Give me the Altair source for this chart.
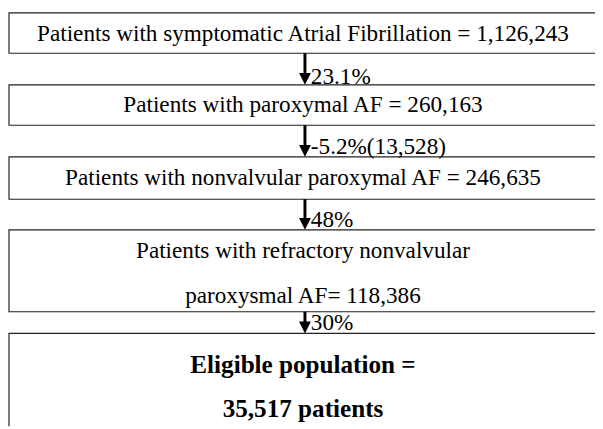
import altair as alt
import pandas as pd

# ---- content ----
box_lines = [
    ["Patients with symptomatic Atrial Fibrillation = 1,126,243"],
    ["Patients with paroxymal AF = 260,163"],
    ["Patients with nonvalvular paroxymal AF = 246,635"],
    ["Patients with refractory nonvalvular", "paroxysmal AF= 118,386"],
    ["Eligible population =", "35,517 patients"],
]
box_bold = [False, False, False, False, True]
step_labels = ["23.1%", "-5.2%(13,528)", "48%", "30%"]

# ---- layout (page pixel positions) ----
box_left = 9
box_right = 640
box_top = [10, 83, 156, 230, 335]
box_bottom = [51, 124, 199, 313, 460]
line_y = [[32], [104], [178], [252, 297], [367, 412]]
text_x = 307
arrow_x = 309
label_x = 315
label_y = [75, 146, 220, 325]
head = 12

FONT = "Liberation Serif"
FS = 23.5
FS_BOLD = 25.5

boxes = pd.DataFrame({"x": [box_left] * 5, "x2": [box_right] * 5,
                      "y": box_top, "y2": box_bottom})
rows = []
for i, lines in enumerate(box_lines):
    for t, yy in zip(lines, line_y[i]):
        rows.append({"text": t, "x": text_x, "y": yy, "bold": box_bold[i]})
texts = pd.DataFrame(rows)
shafts = pd.DataFrame({"x": [arrow_x] * 4, "y": box_bottom[:4],
                       "y2": [t - head + 1 for t in box_top[1:]]})
heads = pd.DataFrame({"x": [arrow_x] * 4, "y": [t - head / 2 for t in box_top[1:]]})
labels = pd.DataFrame({"text": step_labels, "x": [label_x] * 4, "y": label_y})

xs = alt.Scale(domain=[8, 603], nice=False, zero=False)
ys = alt.Scale(domain=[8, 429], nice=False, zero=False, reverse=True)
X = lambda f="x": alt.X(f, type="quantitative", scale=xs, axis=None)
Y = lambda f="y": alt.Y(f, type="quantitative", scale=ys, axis=None)

rect = alt.Chart(boxes).mark_rect(fill="white", stroke="#222", strokeWidth=1.2, clip=True).encode(
    x=X(), x2="x2", y=Y(), y2="y2")
txt_norm = alt.Chart(texts[~texts.bold]).mark_text(font=FONT, fontSize=FS, color="black",
                                                    align="center", baseline="middle").encode(
    x=X(), y=Y(), text="text")
txt_bold = alt.Chart(texts[texts.bold]).mark_text(font=FONT, fontSize=FS_BOLD, fontWeight="bold",
                                                   color="black", align="center", baseline="middle").encode(
    x=X(), y=Y(), text="text")
shaft = alt.Chart(shafts).mark_rule(color="black", strokeWidth=3).encode(x=X(), y=Y(), y2="y2")
arrowhead = alt.Chart(heads).mark_point(shape="M-1,-1L1,-1L0,1Z", size=head * head, filled=True,
                                        color="black", opacity=1).encode(x=X(), y=Y())
lab = alt.Chart(labels).mark_text(font=FONT, fontSize=FS, color="black", align="left",
                                  baseline="middle").encode(x=X(), y=Y(), text="text")

chart = alt.layer(rect, shaft, arrowhead, txt_norm, txt_bold, lab).properties(
    width=595, height=421, padding=0, autosize="none"
).configure_view(stroke=None)

chart.save("out.html", embed_options={"renderer": "svg", "actions": False})
